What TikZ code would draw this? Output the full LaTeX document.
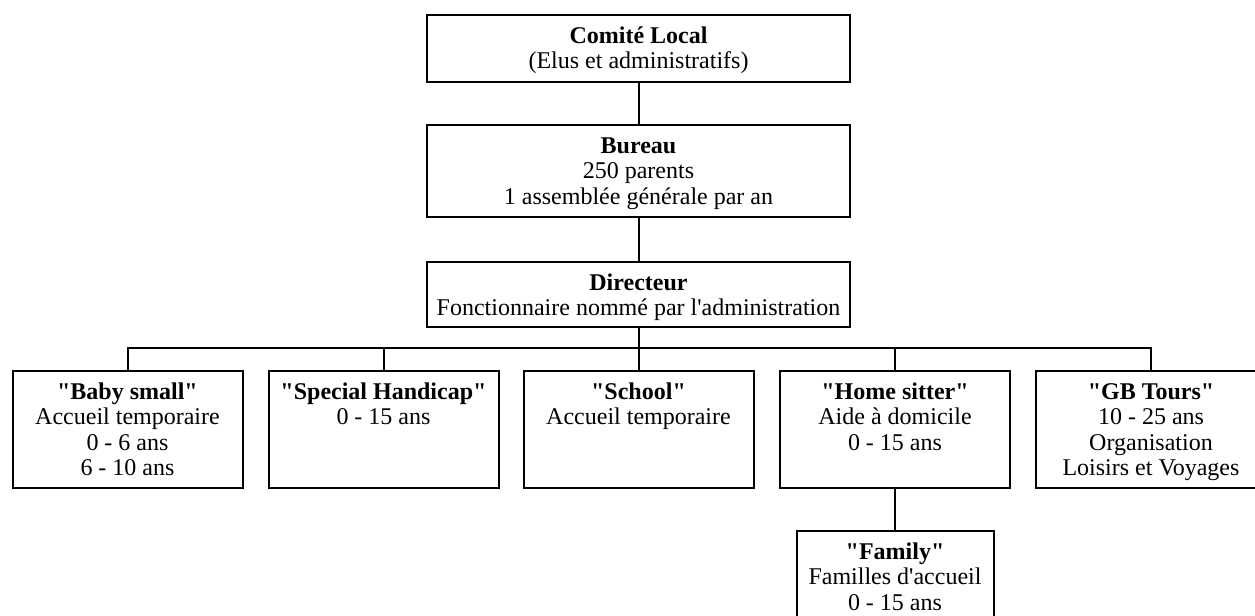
\documentclass[tikz,border=0pt]{standalone}
\usepackage{fontspec}
\setmainfont{Liberation Serif}[Ligatures=TeXOff]
\usepackage{tikz}
\usetikzlibrary{positioning}
\newcommand{\celltext}[3]{\parbox[c][#1][t]{#2}{\centering\rule{0pt}{14.3pt}#3}}

\begin{document}
\begin{tikzpicture}[x=0.5pt, y=-0.5pt,
  unit/.style={draw, line width=1pt, inner sep=0pt, font=\fontsize{12}{12.6}\selectfont},
  link/.style={line width=1pt}
]
\useasboundingbox (0,0) rectangle (1255,616);
\node[unit] (comite) at (638.5,48.5) {\celltext{33.5pt}{211.5pt}{\textbf{Comité Local}\\(Elus et administratifs)}};
\node[unit] (bureau) at (638.5,171) {\celltext{46pt}{211.5pt}{\textbf{Bureau}\\250 parents\\1 assemblée générale par an}};
\node[unit] (directeur) at (638.5,294.5) {\celltext{32.5pt}{211.5pt}{\textbf{Directeur}\\Fonctionnaire nommé par l'administration}};

% services
\node[unit] (baby) at (127.5,429.5) {\celltext{58.5pt}{115pt}{\textbf{"Baby small"}\\Accueil temporaire\\0 - 6 ans\\6 - 10 ans}};
\node[unit] (special) at (383.5,429.5) {\celltext{58.5pt}{115pt}{\textbf{"Special Handicap"}\\0 - 15 ans}};
\node[unit] (school) at (638.5,429.5) {\celltext{58.5pt}{115pt}{\textbf{"School"}\\Accueil temporaire}};
\node[unit] (home) at (895,429.5) {\celltext{58.5pt}{115pt}{\textbf{"Home sitter"}\\Aide à domicile\\0 - 15 ans}};
\node[unit] (gb) at (1151,429.5) {\celltext{58.5pt}{115pt}{\textbf{"GB Tours"}\\10 - 25 ans\\Organisation\\Loisirs et Voyages}};
\node[unit] (family) at (895,589.5) {\celltext{58.5pt}{98.5pt}{\textbf{"Family"}\\Familles d'accueil\\0 - 15 ans}};

\draw[link] (comite) -- (bureau);
\draw[link] (bureau) -- (directeur);
\draw[link] (directeur) -- (school);
\draw[link] (baby.north) -- ++(0,-22) -| (gb.north);
\foreach \n in {special, home}
  \draw[link] (\n.north) -- ++(0,-22);
\draw[link] (home) -- (family);
\end{tikzpicture}
\end{document}
